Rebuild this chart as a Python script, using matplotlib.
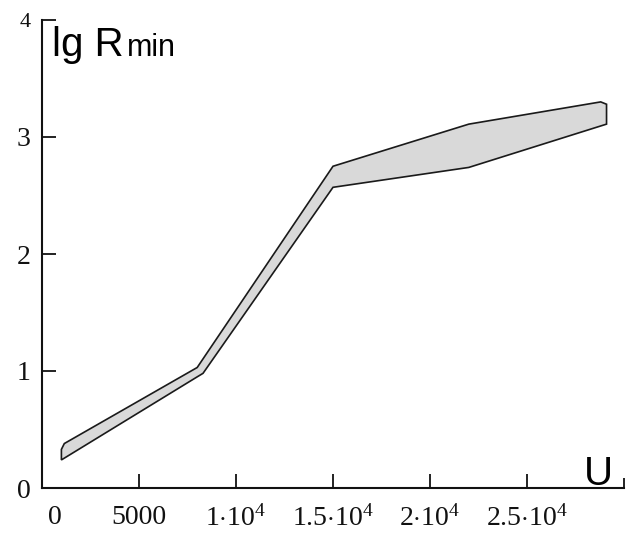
import matplotlib.pyplot as plt
from matplotlib.transforms import ScaledTranslation

# band of lg R_min versus U: upper and lower boundaries
u_upper = [1000, 1150, 8000, 15000, 22000, 28800, 29100]
lg_upper = [0.33, 0.38, 1.03, 2.75, 3.11, 3.30, 3.28]
u_lower = [1000, 8000, 8300, 15000, 22000, 29100]
lg_lower = [0.24, 0.95, 0.98, 2.57, 2.74, 3.11]

x_ticks = [0, 5000, 10000, 15000, 20000, 25000, 30000]
x_ticklabels = ["0", "5000", r"$1{\cdot}10^4$", r"$1.5{\cdot}10^4$",
                r"$2{\cdot}10^4$", r"$2.5{\cdot}10^4$", ""]
y_ticks = [0, 1, 2, 3, 4]
y_ticklabels = ["0", "1", "2", "3", "4"]

plt.rcParams["mathtext.fontset"] = "custom"
plt.rcParams["mathtext.rm"] = "Liberation Serif"
plt.rcParams["mathtext.it"] = "Liberation Serif:italic"

W, H = 631, 537
fig = plt.figure(figsize=(W / 100, H / 100), dpi=100)
ax = fig.add_axes([42 / W, (H - 488) / H, (624 - 42) / W, (488 - 20) / H])

# closed polygon: upper edge left to right, lower edge back
poly_x = u_upper + u_lower[::-1]
poly_y = lg_upper + lg_lower[::-1]
ax.fill(poly_x, poly_y, facecolor="#d9d9d9", edgecolor="#1a1a1a", linewidth=1.2)

ax.set_xlim(0, 30000)
ax.set_ylim(0, 4)
ax.set_xticks(x_ticks)
ax.set_xticklabels(x_ticklabels, fontfamily="Liberation Serif", fontsize=20)
ax.set_yticks(y_ticks)
ax.set_yticklabels(y_ticklabels, fontfamily="Liberation Serif", fontsize=20)
ax.tick_params(direction="in", length=10, width=1.3, colors="#111")
ax.tick_params(axis="x", pad=12)
ax.tick_params(axis="y", pad=8)

# nudge the "0" under the axis a bit to the right, shrink the top "4"
lbl0 = ax.get_xticklabels()[0]
lbl0.set_transform(lbl0.get_transform() + ScaledTranslation(0.13, 0, fig.dpi_scale_trans))
ax.get_yticklabels()[-1].set_fontsize(16)
ax.xaxis.get_major_ticks()[-1].tick1line.set_markersize(7)

for side in ["top", "right"]:
    ax.spines[side].set_visible(False)
for side in ["left", "bottom"]:
    ax.spines[side].set_linewidth(1.5)
    ax.spines[side].set_color("#111")

# axis names drawn inside the plot area
fig.text(52 / W, (H - 56) / H, "lg R", fontfamily="Liberation Sans",
         fontsize=29, va="baseline", ha="left")
fig.text(127 / W, (H - 56) / H, "min", fontfamily="Liberation Sans",
         fontsize=22, va="baseline", ha="left")
fig.text(584 / W, (H - 485) / H, "U", fontfamily="Liberation Sans",
         fontsize=29, va="baseline", ha="left")

fig.savefig("out.png", dpi=100)
